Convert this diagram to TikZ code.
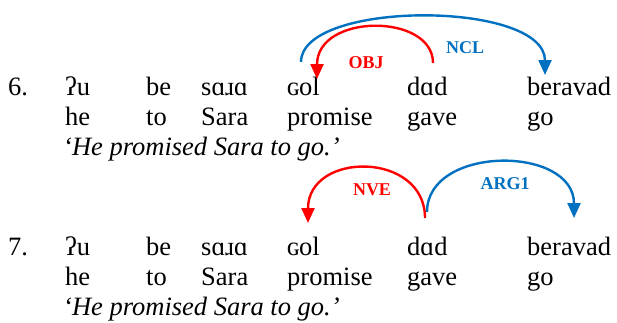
\documentclass[tikz,border=0pt]{standalone}
\usepackage{fontspec}
\setmainfont{Liberation Serif}
\usetikzlibrary{arrows.meta}
\definecolor{arcred}{RGB}{255,0,0}
\definecolor{arcblue}{RGB}{0,112,192}
\tikzset{
  word/.style={anchor=base west, inner sep=0pt, font=\fontsize{26.5}{30}\selectfont},
  gloss/.style={word},
  free/.style={anchor=base west, inner sep=0pt, font=\fontsize{26.5}{30}\selectfont\itshape},
  rel/.style={inner sep=0pt, font=\fontsize{18}{20}\selectfont\bfseries},
  deparc/.style={line width=2.4pt, -{Triangle[width=13pt,length=15pt]}},
}
\begin{document}
\begin{tikzpicture}[x=1pt,y=-1pt]
\useasboundingbox (0,0) rectangle (617,322);
\clip (0,0) rectangle (617,322);

% ---------- example 6 ----------
\node[word] (n6) at (8,95) {6.};
\node[word] (u6) at (65,95) {ʔu};
\node[word] (be6) at (146,95) {be};
\node[word] (sara6) at (201,95) {sɑɹɑ};
\node[word] (gol6) at (287,95) {ɢol};
\node[word] (dad6) at (407,95) {dɑd};
\node[word] (berav6) at (527,95) {beravad};
\node[gloss] (he6) at (65,125) {he};
\node[gloss] (to6) at (146,125) {to};
\node[gloss] (sg6) at (201,125) {Sara};
\node[gloss] (pr6) at (287,125) {promise};
\node[gloss] (gv6) at (407,125) {gave};
\node[gloss] (go6) at (527,125) {go};
\node[free] (tr6) at (63,155) {‘He promised Sara to go.’};

\coordinate (ncl-s) at (301,62);
\coordinate (ncl-e) at (545,75);
\coordinate (obj-s) at (433,63);
\coordinate (obj-e) at (317,79);
\draw[deparc, arcblue] (ncl-s) .. controls (301,0) and (545,0) .. (ncl-e);
\draw[deparc, arcred] (obj-s) .. controls (433,13) and (317,13) .. (obj-e);
\node[rel, text=arcred] (objl) at (366,63) {OBJ};
\node[rel, text=arcblue] (ncll) at (465,48) {NCL};

% ---------- example 7 ----------
\node[word] (n7) at (8,255) {7.};
\node[word] (u7) at (65,255) {ʔu};
\node[word] (be7) at (146,255) {be};
\node[word] (sara7) at (201,255) {sɑɹɑ};
\node[word] (gol7) at (287,255) {ɢol};
\node[word] (dad7) at (407,255) {dɑd};
\node[word] (berav7) at (527,255) {beravad};
\node[gloss] (he7) at (65,285) {he};
\node[gloss] (to7) at (146,285) {to};
\node[gloss] (sg7) at (201,285) {Sara};
\node[gloss] (pr7) at (287,285) {promise};
\node[gloss] (gv7) at (407,285) {gave};
\node[gloss] (go7) at (527,285) {go};
\node[free] (tr7) at (63,315) {‘He promised Sara to go.’};

\coordinate (nve-s) at (425,218);
\coordinate (nve-e) at (308,223);
\coordinate (arg-s) at (427,212);
\coordinate (arg-e) at (574,218);
\draw[deparc, arcred] (nve-s) .. controls (425,151) and (308,151) .. (nve-e);
\draw[deparc, arcblue] (arg-s) .. controls (427,145) and (574,145) .. (arg-e);
\node[rel, text=arcred] (nvel) at (372,190) {NVE};
\node[rel, text=arcblue] (argl) at (505,184) {ARG1};
\end{tikzpicture}
\end{document}
